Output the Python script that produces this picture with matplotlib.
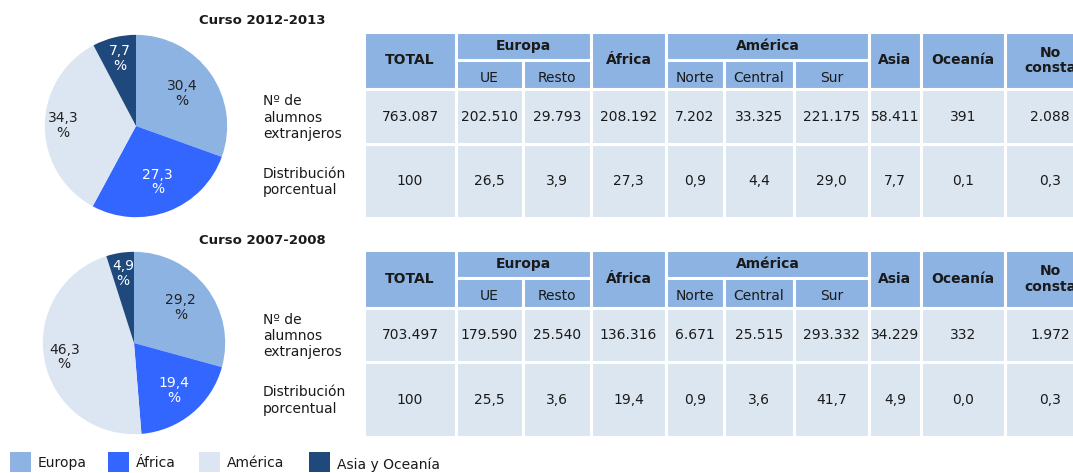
import numpy as np
import matplotlib
matplotlib.use("Agg")
import matplotlib.pyplot as plt
from matplotlib.patches import Rectangle

plt.rcParams['font.family'] = ['DejaVu Sans']

# Data
regions = ["Europa", "África", "América", "Asia y Oceanía"]
pie_2012 = [30.4, 27.3, 34.3, 7.7]
pie_2007 = [29.2, 19.4, 46.3, 4.9]

titles = ["Curso 2012-2013", "Curso 2007-2008"]
row_labels = ["Nº de\nalumnos\nextranjeros", "Distribución\nporcentual"]

head_top = ["TOTAL", "Europa", "África", "América", "Asia", "Oceanía", "No\nconsta"]
head_sub = ["UE", "Resto", "Norte", "Central", "Sur"]

alumnos_2012 = [763087, 202510, 29793, 208192, 7202, 33325, 221175, 58411, 391, 2088]
dist_2012 = [100, 26.5, 3.9, 27.3, 0.9, 4.4, 29.0, 7.7, 0.1, 0.3]
alumnos_2007 = [703497, 179590, 25540, 136316, 6671, 25515, 293332, 34229, 332, 1972]
dist_2007 = [100, 25.5, 3.6, 19.4, 0.9, 3.6, 41.7, 4.9, 0.0, 0.3]

# Styles
colors = ["#8db3e2", "#3366ff", "#dce6f2", "#1f497d"]
label_colors = ["#222222", "white", "#222222", "white"]
head_color = "#8db3e2"
body_color = "#dce6f1"
txt = "#1a1a1a"

W, H = 1073, 473
fig = plt.figure(figsize=(W / 100, H / 100), dpi=100)
ax = fig.add_axes([0, 0, 1, 1])
ax.set_xlim(0, W)
ax.set_ylim(H, 0)
ax.axis("off")


def spanish_int(v):
    return f"{v:,}".replace(",", ".")


def spanish_dec(v):
    return str(v) if isinstance(v, int) else f"{v:.1f}".replace(".", ",")


def draw_pie(values, cx, cy, r, dists):
    pax = fig.add_axes([(cx - r) / W, 1 - (cy + r) / H, 2 * r / W, 2 * r / H])
    wedges, _ = pax.pie(values, colors=colors, startangle=90, counterclock=False,
                        radius=1, wedgeprops=dict(linewidth=0))
    pax.set_xlim(-1.02, 1.02)
    pax.set_ylim(-1.02, 1.02)
    for w, v, d, c in zip(wedges, values, dists, label_colors):
        ang = np.deg2rad((w.theta1 + w.theta2) / 2)
        pax.text(d * np.cos(ang), d * np.sin(ang), spanish_dec(v) + "\n%",
                 ha="center", va="center", fontsize=10, color=c, linespacing=1.05)


def draw_table(y_edges, alumnos, dist):
    xe = [364, 456, 523, 591, 666, 724, 794, 869, 921, 1005, 1095]
    y0, y1, y2, y3, y4 = y_edges

    def cell(xa, xb, ya, yb, color, text="", bold=False, dy=0):
        ax.add_patch(Rectangle((xa, ya), xb - xa, yb - ya, facecolor=color,
                               edgecolor="white", linewidth=2.2))
        if text:
            ax.text((xa + xb) / 2, (ya + yb) / 2 + dy, text, ha="center", va="center",
                    fontsize=10, color=txt, fontweight="bold" if bold else "normal",
                    linespacing=1.1)

    # header
    cell(xe[0], xe[1], y0, y2, head_color, head_top[0], True)
    cell(xe[1], xe[3], y0, y1, head_color, head_top[1], True)
    cell(xe[3], xe[4], y0, y2, head_color, head_top[2], True)
    cell(xe[4], xe[7], y0, y1, head_color, head_top[3], True)
    for k, lab in zip(range(7, 10), head_top[4:]):
        cell(xe[k], xe[k + 1], y0, y2, head_color, lab, True)
    for k, lab in zip([1, 2, 4, 5, 6], head_sub):
        cell(xe[k], xe[k + 1], y1, y2, head_color, lab, False, dy=3)
    # body
    for k in range(10):
        cell(xe[k], xe[k + 1], y2, y3, body_color, spanish_int(alumnos[k]))
        cell(xe[k], xe[k + 1], y3, y4, body_color, spanish_dec(dist[k]))
    ax.text(263, (y2 + y3) / 2 + 1, row_labels[0], ha="left", va="center",
            fontsize=10, color=txt, linespacing=1.2)
    ax.text(263, (y3 + y4) / 2 + 1, row_labels[1], ha="left", va="center",
            fontsize=10, color=txt, linespacing=1.2)


# Curso 2012-2013
ax.text(262, 20, titles[0], ha="center", va="center", fontsize=9.5,
        fontweight="bold", color=txt)
draw_pie(pie_2012, 136, 126, 93, [0.62, 0.66, 0.8, 0.76])
draw_table([32, 60, 89, 144, 218], alumnos_2012, dist_2012)

# Curso 2007-2008
ax.text(262, 240, titles[1], ha="center", va="center", fontsize=9.5,
        fontweight="bold", color=txt)
draw_pie(pie_2007, 134, 343, 93, [0.64, 0.68, 0.78, 0.77])
draw_table([250, 278, 308, 362, 437], alumnos_2007, dist_2007)

# Legend
leg_x = [10, 108, 199, 309]
for x, lab, c in zip(leg_x, regions, colors):
    ax.add_patch(Rectangle((x, 452), 21, 20, facecolor=c, edgecolor="none"))
    ax.text(x + 28, 463 if lab != regions[3] else 465, lab, ha="left", va="center",
            fontsize=10, color=txt)

fig.savefig("out.png", dpi=100)
